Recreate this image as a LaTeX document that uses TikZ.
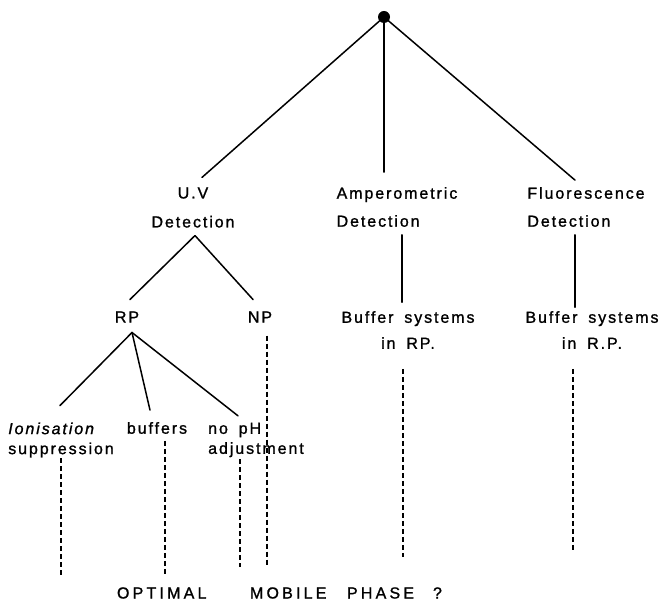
\documentclass[tikz,border=0pt]{standalone}
\usepackage{fontspec}
\setmainfont{Liberation Sans}[LetterSpace=12, FakeBold=1.2, WordSpace=1.7]
\newfontfamily\widefont{Liberation Sans}[LetterSpace=20, FakeBold=1.2]
\begin{document}
\begin{tikzpicture}[x=1pt,y=-1pt,
  lbl/.style={font=\fontsize{16}{20}\selectfont, inner sep=0pt, outer sep=0pt},
  ln/.style={line width=1.5pt, line cap=round},
  dsh/.style={line width=1.5pt, dash pattern=on 5pt off 3pt}]
\useasboundingbox[fill=white] (0,0) rectangle (662,601);

% root
\node[circle, fill=black, inner sep=0pt, minimum size=12pt] (top) at (384,17) {};

% level 1
\node[lbl, align=center] (uv)  at (193,207.5) {U.V\\[9pt]Detection};
\node[lbl, align=left]   (amp) at (397,207)   {Amperometric\\[8pt]Detection};
\node[lbl, align=left]   (flu) at (586,207)   {Fluorescence\\[8pt]Detection};

% level 2
\node[lbl] (rp) at (127,317) {RP};
\node[lbl] (np) at (260,317) {NP};
\node[lbl, align=center] (bamp) at (408,330) {Buffer systems\\[6pt]in RP.};
\node[lbl, align=center] (bflu) at (592,330) {Buffer systems\\[6pt]in R.P.};

% level 3
\node[lbl, align=left] (ion)  at (61,440)  {{\itshape Ionisation}\\suppression};
\node[lbl]             (buf)  at (157,428) {buffers};
\node[lbl, align=left] (noph) at (256,440) {no pH\\adjustment};

% bottom question
\node[lbl, anchor=west, font=\fontsize{16}{20}\selectfont\widefont] (opt) at (117,593)
  {\makebox[133pt][l]{OPTIMAL}\makebox[97pt][l]{MOBILE}\makebox[86pt][l]{PHASE}?};

% free ends of the dashed lines
\coordinate (ionEnd)  at (61,575);
\coordinate (bufEnd)  at (165,575);
\coordinate (nophEnd) at (240,567);
\coordinate (npEnd)   at (267,565);
\coordinate (bampEnd) at (403,557);
\coordinate (bfluEnd) at (573,552);

% solid connectors
\draw[ln] (top.center) -- ([xshift=9pt,yshift=10pt]uv.north);
\draw[ln, shorten >=15pt] (top.center) -- (top.center |- amp.north);
\draw[ln] (top.center) -- ([xshift=-11pt,yshift=7pt]flu.north);

\draw[ln] ([xshift=2pt,yshift=-8pt]uv.south) -- ([xshift=3pt,yshift=12pt]rp.north);
\draw[ln] ([xshift=2pt,yshift=-8pt]uv.south) -- ([xshift=-7pt,yshift=12pt]np.north);

\draw[ln] ([xshift=5pt,yshift=-8pt]amp.south) -- ([xshift=-6pt,yshift=9pt]bamp.north);
\draw[ln] ([xshift=-11pt,yshift=-8pt]flu.south) -- ([xshift=-17pt,yshift=4pt]bflu.north);

\draw[ln] ([xshift=5pt,yshift=-10pt]rp.south) -- ([xshift=-1pt,yshift=17pt]ion.north);
\draw[ln] ([xshift=5pt,yshift=-10pt]rp.south) -- ([xshift=-7pt,yshift=12pt]buf.north);
\draw[ln] ([xshift=5pt,yshift=-10pt]rp.south) -- ([xshift=-18pt,yshift=7pt]noph.north);

% dashed connectors
\draw[dsh] ([yshift=-1pt]ion.south) -- (ionEnd);
\draw[dsh] ([xshift=8pt,yshift=-7pt]buf.south) -- (bufEnd);
\draw[dsh] ([xshift=-16pt,yshift=-2pt]noph.south) -- (nophEnd);
\draw[dsh] ([xshift=7pt,yshift=-13pt]np.south) -- (npEnd);
\draw[dsh] ([xshift=-5pt,yshift=-20pt]bamp.south) -- (bampEnd);
\draw[dsh] ([xshift=-19pt,yshift=-20pt]bflu.south) -- (bfluEnd);
\end{tikzpicture}
\end{document}
